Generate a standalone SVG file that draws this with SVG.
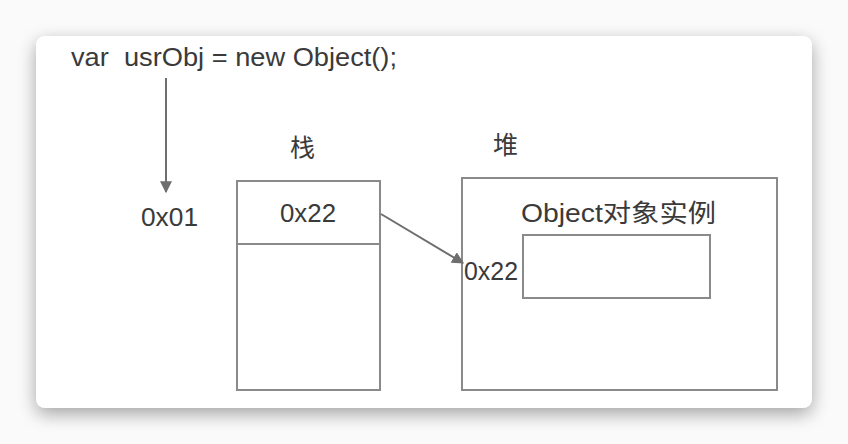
<svg xmlns="http://www.w3.org/2000/svg" width="848" height="444" viewBox="0 0 848 444">
<defs>
<filter id="sh" x="-20%" y="-20%" width="140%" height="150%">
<feGaussianBlur in="SourceAlpha" stdDeviation="9"/>
<feOffset dy="6"/>
<feComponentTransfer><feFuncA type="linear" slope="0.35"/></feComponentTransfer>
<feMerge><feMergeNode/><feMergeNode in="SourceGraphic"/></feMerge>
</filter>
<marker id="ah" viewBox="0 0 10 10" refX="9" refY="5" markerWidth="12" markerHeight="12" orient="auto" markerUnits="userSpaceOnUse">
<path d="M0,0 L10,5 L0,10 z" fill="#6e6e6e"/>
</marker>
<style>
.t{font-family:"Liberation Sans","Noto Sans CJK SC",sans-serif;font-size:25px;fill:#3a3a3a}
.b{fill:#fff;stroke:#8a8a8a;stroke-width:2}
.c{stroke:#6e6e6e;stroke-width:2;fill:none}
</style>
</defs>
<rect width="848" height="444" fill="#fafafa"/>
<rect x="36" y="36" width="776" height="372" rx="9" fill="#fff" filter="url(#sh)"/>
<g id="code"><text class="t" x="71" y="66" textLength="326" lengthAdjust="spacingAndGlyphs" xml:space="preserve">var  usrObj = new Object();</text></g>
<g id="addr"><text class="t" x="141" y="226" textLength="57" lengthAdjust="spacingAndGlyphs">0x01</text></g>
<g id="stackLabel"><text class="t" x="290" y="157">栈</text></g>
<g id="heapLabel"><text class="t" x="493" y="154">堆</text></g>
<g id="stack">
<rect class="b" x="237" y="181" width="143" height="209"/>
<line class="b" x1="237" y1="244" x2="380" y2="244"/>
<text class="t" x="280" y="222" textLength="56" lengthAdjust="spacingAndGlyphs">0x22</text>
</g>
<g id="heap">
<rect class="b" x="462" y="178" width="315" height="212"/>
<text class="t" x="521" y="222" textLength="195" lengthAdjust="spacingAndGlyphs">Object对象实例</text>
<rect class="b" x="523" y="235" width="187" height="63"/>
<text class="t" x="464" y="280" textLength="54" lengthAdjust="spacingAndGlyphs">0x22</text>
</g>
<g id="connectors">
<line class="c" x1="166" y1="78" x2="166" y2="192" marker-end="url(#ah)"/>
<line class="c" x1="381" y1="214" x2="463" y2="263" marker-end="url(#ah)"/>
</g>
</svg>
